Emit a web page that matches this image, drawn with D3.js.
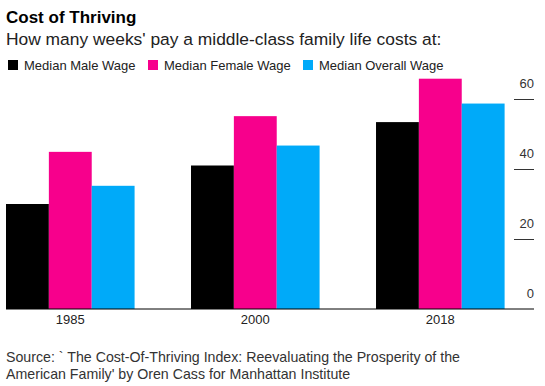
<!DOCTYPE html>
<html>
<head>
<meta charset="utf-8">
<script src="https://cdn.jsdelivr.net/npm/d3@7"></script>
<style>
  body { margin: 0; background: #fff; }
  text { font-family: "Liberation Sans", Arial, sans-serif; }
</style>
</head>
<body>
<div id="viz"></div>
<script>
// chart data
const years = ["1985", "2000", "2018"];
const seriesNames = ["Median Male Wage", "Median Female Wage", "Median Overall Wage"];
const maleWeeks = [30, 41, 53.4];
const femaleWeeks = [44.9, 55.1, 65.8];
const overallWeeks = [35.2, 46.7, 58.7];
const yTicks = [0, 20, 40, 60];

const colors = ["#000000", "#f7008c", "#00aaf9"];
const seriesValues = [maleWeeks, femaleWeeks, overallWeeks];

const width = 545, height = 386;

const svg = d3.select("#viz")
  .append("svg")
  .attr("width", width)
  .attr("height", height);

// title + subtitle
svg.append("text")
  .attr("x", 6).attr("y", 23)
  .style("font-size", "17px")
  .style("font-weight", "bold")
  .attr("fill", "#000")
  .text("Cost of Thriving");

svg.append("text")
  .attr("x", 6).attr("y", 45)
  .style("font-size", "17.4px")
  .attr("fill", "#222")
  .text("How many weeks' pay a middle-class family life costs at:");

// legend
const legendX = [8, 148, 303];
seriesNames.forEach((name, i) => {
  svg.append("rect")
    .attr("x", legendX[i]).attr("y", 60)
    .attr("width", 10).attr("height", 10)
    .attr("fill", colors[i]);
  svg.append("text")
    .attr("x", legendX[i] + 16).attr("y", 70)
    .style("font-size", "13px")
    .attr("fill", "#222")
    .text(name);
});

// scales
const x0 = d3.scaleBand()
  .domain(years)
  .range([6, 504.6])
  .paddingInner(0.305)
  .paddingOuter(0);

const x1 = d3.scaleBand()
  .domain(d3.range(seriesNames.length))
  .range([0, x0.bandwidth()]);

const y = d3.scaleLinear()
  .domain([0, 60])
  .range([309, 99]);

// bars
const groups = svg.selectAll("g.year")
  .data(years)
  .enter()
  .append("g")
  .attr("class", "year")
  .attr("transform", d => `translate(${x0(d)},0)`);

groups.selectAll("rect")
  .data((d, yi) => seriesValues.map((vals, si) => ({ si: si, v: vals[yi] })))
  .enter()
  .append("rect")
  .attr("x", d => x1(d.si))
  .attr("width", x1.bandwidth())
  .attr("y", d => y(d.v))
  .attr("height", d => y(0) - y(d.v))
  .attr("fill", d => colors[d.si]);

// baseline
svg.append("line")
  .attr("x1", 6).attr("x2", 534)
  .attr("y1", y(0)).attr("y2", y(0))
  .attr("stroke", "#000")
  .attr("stroke-width", 1);

// x labels
svg.selectAll("text.xlab")
  .data(years)
  .enter()
  .append("text")
  .attr("class", "xlab")
  .attr("x", d => x0(d) + x0.bandwidth() / 2)
  .attr("y", 324)
  .attr("text-anchor", "middle")
  .style("font-size", "13px")
  .attr("fill", "#222")
  .text(d => d);

// y axis on the right: short tick lines with labels above
yTicks.forEach(t => {
  if (t > 0) {
    svg.append("line")
      .attr("x1", 514).attr("x2", 534)
      .attr("y1", y(t) + 0.5).attr("y2", y(t) + 0.5)
      .attr("stroke", "#333")
      .attr("stroke-width", 1);
  }
  svg.append("text")
    .attr("x", 534)
    .attr("y", y(t) - 11)
    .attr("text-anchor", "end")
    .style("font-size", "13px")
    .attr("fill", "#333")
    .text(t);
});

// source
const sourceLines = [
  "Source: ` The Cost-Of-Thriving Index: Reevaluating the Prosperity of the",
  "American Family' by Oren Cass for Manhattan Institute"
];
sourceLines.forEach((line, i) => {
  svg.append("text")
    .attr("x", 6)
    .attr("y", 362 + i * 17)
    .style("font-size", "14.2px")
    .attr("fill", "#333")
    .text(line);
});
</script>
</body>
</html>
